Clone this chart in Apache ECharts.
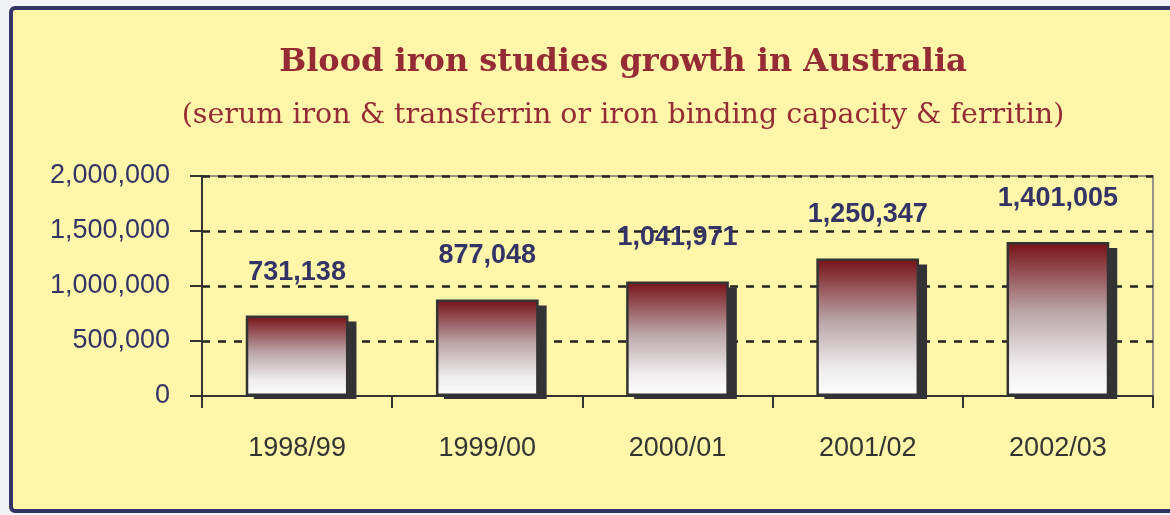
<!DOCTYPE html>
<html>
<head>
<meta charset="utf-8">
<script src="https://cdn.jsdelivr.net/npm/echarts@6/dist/echarts.min.js"></script>
<style>
html,body{margin:0;padding:0;background:#f2f3f6;}
#chart{width:1170px;height:515px;}
</style>
</head>
<body>
<div id="chart"></div>
<script>
const titleText = 'Blood iron studies growth in Australia';
const subtitleText = '(serum iron & transferrin or iron binding capacity & ferritin)';
const categories = ['1998/99', '1999/00', '2000/01', '2001/02', '2002/03'];
const values = [731138, 877048, 1041971, 1250347, 1401005];
const yTicks = [0, 500000, 1000000, 1500000, 2000000];

function fmt(v) { return v.toString().replace(/\B(?=(\d{3})+(?!\d))/g, ','); }

const BAR_FRAC = 0.54;
const chart = echarts.init(document.getElementById('chart'), null, {renderer: 'canvas'});
chart.setOption({
  backgroundColor: '#f2f3f6',
  animation: false,
  graphic: [
    {type: 'rect', z: -10, shape: {x: 11, y: 8, width: 1180, height: 503, r: 4},
     style: {fill: '#fff6aa', stroke: '#333366', lineWidth: 4}}
  ],
  title: {
    text: titleText,
    subtext: subtitleText,
    left: 618,
    textAlign: 'center',
    top: 42,
    itemGap: 22,
    textStyle: {fontFamily: 'DejaVu Serif', fontWeight: 'bold', fontSize: 32, color: '#952b35'},
    subtextStyle: {fontFamily: 'DejaVu Serif', fontSize: 28.5, color: '#952b35'}
  },
  grid: {left: 202, right: 17, top: 176, bottom: 119, show: true, borderColor: '#9a918c', borderWidth: 2},
  xAxis: {
    type: 'category',
    data: categories,
    z: 1,
    axisLine: {lineStyle: {color: '#333333', width: 2}},
    axisTick: {show: true, length: 12, lineStyle: {color: '#333333', width: 2}},
    axisLabel: {margin: 39, fontFamily: 'Liberation Sans, Arial', fontSize: 27, color: '#333333'}
  },
  yAxis: {
    type: 'value',
    min: yTicks[0],
    max: yTicks[yTicks.length - 1],
    interval: yTicks[1] - yTicks[0],
    axisLine: {show: true, lineStyle: {color: '#333333', width: 2}},
    axisTick: {show: true, length: 12, lineStyle: {color: '#333333', width: 2}},
    axisLabel: {margin: 32, fontFamily: 'Liberation Sans, Arial', fontSize: 27, color: '#333366',
                formatter: v => fmt(v)},
    splitLine: {show: true, showMinLine: false, lineStyle: {color: '#222222', width: 2.5, type: [8, 8]}}
  },
  series: [{
    type: 'custom',
    z: 2,
    silent: true,
    data: values.map((v, i) => [i, v]),
    renderItem: function (params, api) {
      const top = api.coord([api.value(0), api.value(1)]);
      const base = api.coord([api.value(0), 0]);
      const w = api.size([1, 0])[0] * BAR_FRAC;
      return {
        type: 'rect',
        shape: {x: top[0] - w / 2 + 8, y: top[1] + 6, width: w, height: base[1] - top[1] - 3},
        style: {fill: '#333336'}
      };
    }
  }, {
    type: 'bar',
    z: 3,
    data: values,
    barWidth: (BAR_FRAC * 100) + '%',
    itemStyle: {
      color: new echarts.graphic.LinearGradient(0, 0, 0, 1, [
        {offset: 0, color: '#761015'},
        {offset: 0.45, color: '#b9a4a7'},
        {offset: 0.8, color: '#eeeced'},
        {offset: 1, color: '#ffffff'}
      ]),
      borderColor: '#333333',
      borderWidth: 2.5
    },
    label: {
      show: true,
      position: 'top',
      distance: 30,
      fontFamily: 'Liberation Sans, Arial',
      fontWeight: 'bold',
      fontSize: 27,
      color: '#333366',
      formatter: p => fmt(p.value)
    }
  }]
});
</script>
</body>
</html>
